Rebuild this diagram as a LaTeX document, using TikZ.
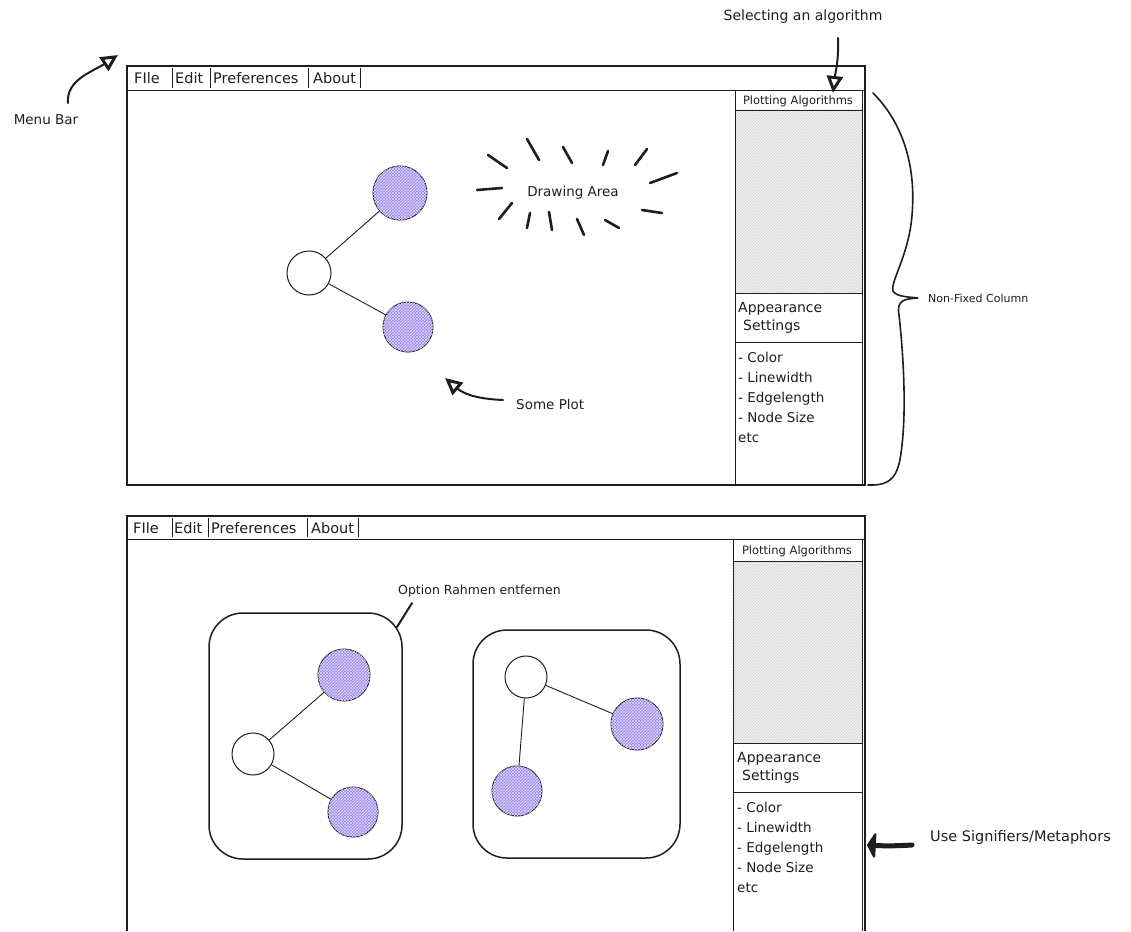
\documentclass[tikz,border=0pt]{standalone}
\usepackage{fontspec}
\setmainfont{DejaVu Sans}
\usetikzlibrary{patterns,arrows.meta}
\definecolor{ink}{RGB}{30,30,30}
\definecolor{pp}{RGB}{150,128,240}
\definecolor{hatchbg}{RGB}{242,242,244}
\begin{document}
\begin{tikzpicture}[x=1pt,y=-1pt,
  win/.style={draw=ink, line width=1.3pt},
  thin/.style={draw=ink, line width=0.9pt},
  txt/.style={inner sep=0pt, text=ink, font=\fontsize{#1}{#1}\selectfont},
  txt/.default=14,
  listtxt/.style={inner sep=0pt, text=ink, align=left, anchor=north west, font=\fontsize{13.5}{20}\selectfont},
  pnode/.style={circle, draw=ink, line width=1pt, inner sep=0pt, minimum size=#1, fill=pp,
     postaction={pattern=crosshatch, pattern color=white!70!pp}},
  wnode/.style={circle, draw=ink, line width=1pt, inner sep=0pt, minimum size=#1, fill=white},
  edge/.style={draw=ink, line width=0.9pt},
  annot/.style={draw=ink, line width=2pt, line cap=round},
  head/.style={-{Triangle[open,length=17pt,width=16pt,line width=3pt]}},
  ray/.style={draw=ink, line width=2.6pt, line cap=round},
  hatch/.style={fill=hatchbg, postaction={pattern=north east lines, pattern color=black!18}},
  roundbox/.style={draw=ink, line width=1.5pt, rounded corners=34pt, inner sep=0pt}
]
\useasboundingbox (0,0) rectangle (1131,931);

%% ================= TOP WINDOW =================
\fill[hatch] (735,110) rectangle (862,293);
\draw[win] (127,66) rectangle (865,485);
\draw[thin] (127,90) -- (865,90);
% menu
\node[txt=14.5, anchor=west] (m1file) at (134,78) {FIle};
\node[txt=14.5, anchor=west] (m1edit) at (175,78) {Edit};
\node[txt=14.5, anchor=west] (m1pref) at (213,78) {Preferences};
\node[txt=14.5, anchor=west] (m1about) at (313,78) {About};
\foreach \x in {172,210,308,360} \draw[thin] (\x,68) -- (\x,88);
% sidebar
\draw[thin] (735,90) -- (735,485);
\draw[thin] (862,90) -- (862,485);
\draw[thin] (735,110) -- (862,110);
\draw[thin] (735,293) -- (862,293);
\draw[thin] (735,342) -- (862,342);
\node[txt=11.5] (plot1) at (798,101) {Plotting Algorithms};
\node[listtxt, font=\fontsize{14}{18}\selectfont] (app1) at (738,302) {Appearance\\\hspace{0.35em}Settings};
\node[listtxt] (list1) at (738,352) {- Color\\- Linewidth\\- Edgelength\\- Node Size\\etc};

% graph top
\node[pnode=54pt] (a1) at (400,193) {};
\node[wnode=44pt] (w1) at (309,273) {};
\node[pnode=50pt] (b1) at (408,327) {};
\draw[edge] (w1) -- (a1);
\draw[edge] (w1) -- (b1);

% drawing area label with rays
\node[txt=13.5] (draw) at (573,193) {Drawing Area};
\draw[ray] (488,155) -- (507,168);
\draw[ray] (527,139) -- (539,160);
\draw[ray] (563,147) -- (572,163);
\draw[ray] (608,151) -- (603,165);
\draw[ray] (647,149) -- (635,165);
\draw[ray] (677,173) -- (650,183);
\draw[ray] (642,210) -- (662,213);
\draw[ray] (605,220) -- (619,228);
\draw[ray] (577,219) -- (584,235);
\draw[ray] (549,212) -- (552,230);
\draw[ray] (530,213) -- (527,228);
\draw[ray] (512,203) -- (499,219);
\draw[ray] (477,190) -- (502,188);

% annotations top
\node[txt=13.5] (menubar) at (46,120) {Menu Bar};
\coordinate (mbstart) at (68,103);
\coordinate (mbtip) at (118,55);
\draw[annot, head] (mbstart) .. controls (66,80) and (92,72) .. (mbtip);

\node[txt=14] (select) at (803,17) {Selecting an algorithm};
\coordinate (seltip) at (833,93);
\draw[annot, head] (838,38) .. controls (839,60) and (835,75) .. (seltip);

\node[txt=13.5, anchor=west] (someplot) at (516,404) {Some Plot};
\coordinate (sptip) at (445,378);
\draw[annot, head] (someplot.west) ++(-13,-4) .. controls (480,399) and (465,395) .. (sptip);

\node[txt=11, anchor=west] (nonfixed) at (928,298) {Non-Fixed Column};
\coordinate (brtop) at (873,93);
\coordinate (brtip) at (918,298);
\coordinate (brbot) at (868,485);
\draw[annot, line width=1.6pt] (brtop) .. controls (905,125) and (916,170) .. (912,215)
   .. controls (909,255) and (890,282) .. (893,291)
   .. controls (896,297) and (910,297) .. (brtip)
   .. controls (906,299) and (896,299) .. (899,315)
   .. controls (904,360) and (906,410) .. (902,445)
   .. controls (899,475) and (893,486) .. (brbot);

%% ================= BOTTOM WINDOW =================
\fill[hatch] (733,561) rectangle (862,743);
\draw[win] (127,931) -- (127,516) -- (865,516) -- (865,931);
\draw[thin] (127,539) -- (865,539);
\node[txt=14.5, anchor=west] (m2file) at (133,528) {FIle};
\node[txt=14.5, anchor=west] (m2edit) at (174,528) {Edit};
\node[txt=14.5, anchor=west] (m2pref) at (211,528) {Preferences};
\node[txt=14.5, anchor=west] (m2about) at (311,528) {About};
\foreach \x in {172,208,307,358} \draw[thin] (\x,518) -- (\x,537);
\draw[thin] (733,539) -- (733,931);
\draw[thin] (862,539) -- (862,931);
\draw[thin] (733,561) -- (862,561);
\draw[thin] (733,743) -- (862,743);
\draw[thin] (733,792) -- (862,792);
\node[txt=11.5] (plot2) at (797,551) {Plotting Algorithms};
\node[listtxt, font=\fontsize{14}{18}\selectfont] (app2) at (737,752) {Appearance\\\hspace{0.35em}Settings};
\node[listtxt] (list2) at (737,802) {- Color\\- Linewidth\\- Edgelength\\- Node Size\\etc};

% left framed graph
\node[roundbox, minimum width=193pt, minimum height=246pt] (box1) at (305.5,736) {};
\node[pnode=52pt] (a2) at (344,675) {};
\node[wnode=42pt] (w2) at (253,754) {};
\node[pnode=50pt] (b2) at (353,812) {};
\draw[edge] (w2) -- (a2);
\draw[edge] (w2) -- (b2);

% right framed graph
\node[roundbox, minimum width=207pt, minimum height=228pt] (box2) at (576.5,744) {};
\node[wnode=42pt] (w3) at (526,677) {};
\node[pnode=52pt] (r3) at (637,724) {};
\node[pnode=50pt] (l3) at (517,791) {};
\draw[edge] (w3) -- (r3);
\draw[edge] (w3) -- (l3);

% annotations bottom
\node[txt=12.5, anchor=west] (option) at (398,591) {Option Rahmen entfernen};
\coordinate (boxcorner) at (397,627);
\draw[annot] (412,603) -- (boxcorner);

\node[txt=14.5, anchor=west] (signif) at (930,837) {Use Signifiers/Metaphors};
\coordinate (sigtip) at (867,845);
\draw[draw=ink, line width=5pt, line cap=round, -{Triangle[length=9pt,width=30pt,round]}] (912,845) .. controls (895,846) and (885,846) .. (sigtip);
\end{tikzpicture}
\end{document}
